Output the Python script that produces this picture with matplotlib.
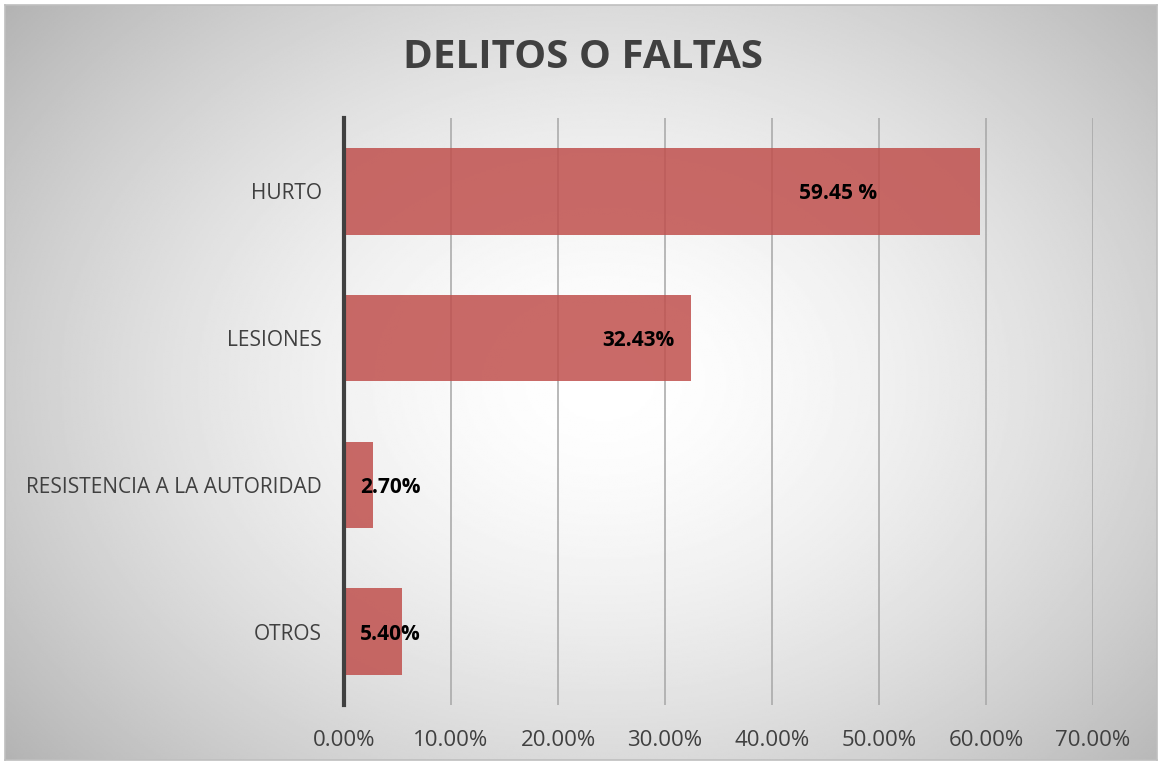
import numpy as np
import matplotlib.pyplot as plt
from matplotlib.ticker import FuncFormatter

categories = ["HURTO", "LESIONES", "RESISTENCIA A LA AUTORIDAD", "OTROS"]
values = [59.45, 32.43, 2.70, 5.40]
value_labels = ["59.45 %", "32.43%", "2.70%", "5.40%"]
xticks = [0, 10, 20, 30, 40, 50, 60, 70]

plt.rcParams['font.family'] = ['Open Sans', 'DejaVu Sans']

fig = plt.figure(figsize=(11.59, 7.63), dpi=100)

# radial gradient background inside a thin border
bg = fig.add_axes([5 / 1159, 3 / 763, 1152 / 1159, 755 / 763])
yy, xx = np.mgrid[0:1:400j, 0:1:600j]
r = np.sqrt(((xx - 0.52) / 0.62) ** 2 + ((yy - 0.5) / 0.72) ** 2)
shade = 1.0 - 0.26 * np.clip(r, 0, 1.2) ** 1.6
bg.imshow(shade, cmap="gray", vmin=0, vmax=1, aspect="auto", extent=[0, 1, 0, 1])
bg.set_xlim(0, 1)
bg.set_ylim(0, 1)
for s in bg.spines.values():
    s.set_color("#BFBFBF")
    s.set_linewidth(1.2)
bg.set_xticks([])
bg.set_yticks([])

ax = fig.add_axes([344 / 1159, 58 / 763, 749 / 1159, 587 / 763])
ax.patch.set_alpha(0)
y = np.arange(len(categories))
ax.barh(y, values, height=0.59, color="#C0504D", alpha=0.85, zorder=3)

ax.set_xlim(0, 70)
ax.set_ylim(len(categories) - 0.5, -0.5)
ax.set_xticks(xticks)
ax.xaxis.set_major_formatter(FuncFormatter(lambda v, p: f"{v:.2f}%"))
ax.set_yticks(y)
ax.set_yticklabels(categories)
ax.tick_params(axis="both", length=0, colors="#404040")
ax.tick_params(axis="x", pad=18, labelsize=16)
ax.tick_params(axis="y", pad=16, labelsize=15)
ax.grid(axis="x", color="#A6A6A6", linewidth=1.1, zorder=0)
for side in ["top", "right", "bottom"]:
    ax.spines[side].set_visible(False)
ax.spines["left"].set_color("#404040")
ax.spines["left"].set_linewidth(3)
ax.spines["left"].set_zorder(4)

# label positions as placed in the original (manually moved inside bars)
label_x = [46.2, 27.5, 4.3, 4.3]
for i, lab in enumerate(value_labels):
    ax.text(label_x[i], i, lab, ha="center", va="center_baseline", fontsize=15,
            fontweight="bold", color="black", zorder=5)

fig.text(0.503, 0.925, "DELITOS O FALTAS", ha="center", va="center",
         fontsize=29, fontweight="bold", color="#404040")

fig.savefig("out.png", dpi=100)
